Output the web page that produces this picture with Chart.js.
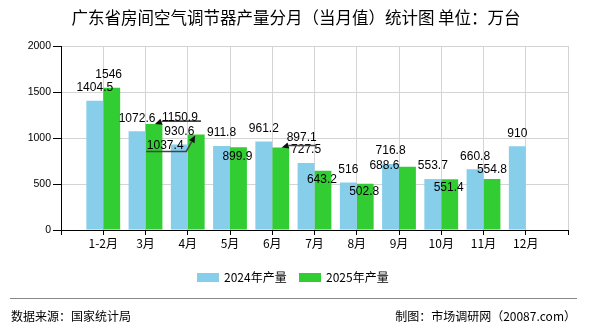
<!DOCTYPE html>
<html><head><meta charset="utf-8">
<script src="https://cdn.jsdelivr.net/npm/chart.js@4.4.1/dist/chart.umd.min.js"></script>
<style>
html,body{margin:0;padding:0;background:#fff;}
#wrap{position:relative;width:590px;height:330px;overflow:hidden;font-family:"Noto Sans CJK SC",sans-serif;background:#fff;}
#c{position:absolute;left:0;top:0;}
.t{position:absolute;white-space:nowrap;color:#000;}
.lg{position:absolute;top:273px;height:8.5px;width:22px;}
</style></head><body>
<div id="wrap">
<canvas id="c" width="590" height="330"></canvas>
<div class="t" id="title" style="left:0;width:592px;top:6px;text-align:center;font-size:16.5px;line-height:22px;">广东省房间空气调节器产量分月（当月值）统计图 单位：万台</div>
<div id="legend"></div>
<div style="position:absolute;left:10px;top:298px;width:567px;height:0;border-top:1.5px solid #888"></div>
<div class="t" style="left:11px;top:307px;font-size:12px;line-height:18px">数据来源：国家统计局</div>
<div class="t" style="right:14px;top:307px;font-size:12px;line-height:18px">制图：市场调研网（20087.com）</div>
</div>
<script>
const months = ['1-2月','3月','4月','5月','6月','7月','8月','9月','10月','11月','12月'];
const output2024 = [1404.5,1072.6,930.6,911.8,961.2,727.5,516,716.8,553.7,660.8,910];
const output2025 = [1546,1150.9,1037.4,899.9,897.1,643.2,502.8,688.6,551.4,554.8,null];
const yTicks = [0,500,1000,1500,2000];
const seriesNames = ['2024年产量','2025年产量'];
const seriesColors = ['#87CEEB','#32CD32'];

// label placement (relative to bar centre / bar top), by dataset then month index
const labelLayout = {
  1: {
    0: {dx:-3, dy:-13},
    1: {dx:26, dy:-6, line:[[47,-3],[9,-3],[1,0]]},
    2: {dx:-31, dy:11, line:[[-50,17],[-10,17],[-1,1]]},
    3: {dx:-1, dy:9},
    4: {dx:21, dy:-10, line:[[35,-2],[8,-2],[1,0]]},
    5: {dx:-1, dy:8.5},
    6: {dx:-1, dy:8},
    7: {dx:-23, dy:-1},
    8: {dx:-1, dy:8},
    9: {dx:0, dy:-9}
  }
};

const padded = a => [null, ...a, null];

const labelPlugin = {
  id:'valueLabels',
  afterDatasetsDraw(chart){
    const ctx = chart.ctx;
    ctx.save();
    chart.data.datasets.forEach((ds,di)=>{
      const meta = chart.getDatasetMeta(di);
      meta.data.forEach((bar,i)=>{
        const v = ds.data[i];
        if(v==null) return;
        const m = i-1;
        const p = (labelLayout[di] && labelLayout[di][m]) || {dx:0, dy:-13};
        const bx = bar.x, top = bar.y;
        if(p.line){
          const pts = p.line.map(q=>[bx+q[0], top+q[1]]);
          ctx.strokeStyle='#444'; ctx.lineWidth=1.6;
          ctx.beginPath();
          ctx.moveTo(pts[0][0],pts[0][1]);
          for(let k=1;k<pts.length-1;k++) ctx.lineTo(pts[k][0],pts[k][1]);
          const a=pts[pts.length-2], b=pts[pts.length-1];
          const ang=Math.atan2(b[1]-a[1], b[0]-a[0]);
          const L=7, W=3.2;
          const bxp=b[0]-L*Math.cos(ang), byp=b[1]-L*Math.sin(ang);
          ctx.lineTo(bxp,byp);
          ctx.stroke();
          ctx.fillStyle='#111';
          ctx.beginPath();
          ctx.moveTo(b[0],b[1]);
          ctx.lineTo(bxp+W*Math.sin(ang), byp-W*Math.cos(ang));
          ctx.lineTo(bxp-W*Math.sin(ang), byp+W*Math.cos(ang));
          ctx.closePath(); ctx.fill();
        }
        ctx.font='12px "Liberation Sans"';
        ctx.fillStyle='#000'; ctx.textAlign='center'; ctx.textBaseline='middle';
        ctx.fillText(String(v), bx+p.dx, top+p.dy);
      });
    });
    ctx.restore();
  }
};

// HTML legend
const lg = document.getElementById('legend');
const legendPos = [[197,224],[299,326]];
seriesNames.forEach((n,i)=>{
  const b=document.createElement('div'); b.className='lg';
  b.style.left=legendPos[i][0]+'px'; b.style.background=seriesColors[i]; lg.appendChild(b);
  const t=document.createElement('div'); t.className='t';
  t.style.left=legendPos[i][1]+'px'; t.style.top='268px'; t.style.fontSize='12px'; t.style.lineHeight='18px';
  t.textContent=n; lg.appendChild(t);
});

new Chart(document.getElementById('c'), {
  type:'bar',
  data:{
    labels:['',...months,''],
    datasets:[
      {label:seriesNames[0], data:padded(output2024), backgroundColor:seriesColors[0], categoryPercentage:0.8, barPercentage:1},
      {label:seriesNames[1], data:padded(output2025), backgroundColor:seriesColors[1], categoryPercentage:0.8, barPercentage:1}
    ]
  },
  options:{
    responsive:false, animation:false, devicePixelRatio:1,
    layout:{padding:{top:46,left:0,right:22,bottom:70}},
    plugins:{legend:{display:false}, title:{display:false}, tooltip:{enabled:false}},
    scales:{
      x:{
        type:'category', offset:false,
        grid:{offset:false, color:'#d4d4d4', tickColor:'#000', tickLength:5},
        border:{color:'#000', width:1},
        ticks:{autoSkip:false, maxRotation:0, minRotation:0, color:'#000', font:{family:'"Noto Sans CJK SC"', size:12}, padding:1},
        afterFit(s){ s.height=30; }
      },
      y:{
        min:0, max:2000,
        afterBuildTicks(s){ s.ticks = yTicks.map(v=>({value:v})); },
        grid:{color:'#d4d4d4', tickColor:'#000', tickLength:8},
        border:{color:'#000', width:1},
        ticks:{color:'#000', font:{family:'"Liberation Sans"', size:10.5}, padding:2, callback:v=>String(v)},
        afterFit(s){ s.width=61; }
      }
    }
  },
  plugins:[labelPlugin]
});
</script>
</body></html>
